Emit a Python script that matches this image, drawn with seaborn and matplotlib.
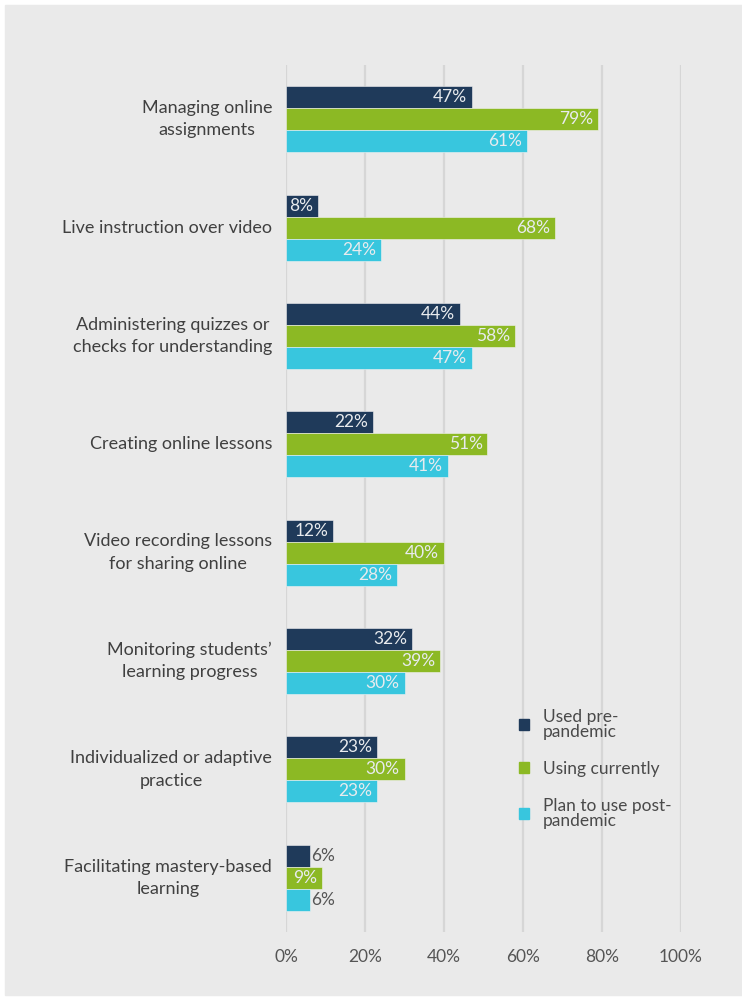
import matplotlib
matplotlib.use("Agg")
import matplotlib.pyplot as plt
from matplotlib.patches import Rectangle
import seaborn as sns
import pandas as pd

categories = [
    "Managing online\nassignments",
    "Live instruction over video",
    "Administering quizzes or\nchecks for understanding",
    "Creating online lessons",
    "Video recording lessons\nfor sharing online",
    "Monitoring students\u2019\nlearning progress",
    "Individualized or adaptive\npractice",
    "Facilitating mastery-based\nlearning",
]
series = ["Used pre-\npandemic", "Using currently", "Plan to use post-\npandemic"]
pre_pandemic = [47, 8, 44, 22, 12, 32, 23, 6]
using_now = [79, 68, 58, 51, 40, 39, 30, 9]
post_pandemic = [61, 24, 47, 41, 28, 30, 23, 6]
ticks = [0, 20, 40, 60, 80, 100]

colors = ["#1f3a5a", "#8cb924", "#38c6de"]
bg = "#eaeaea"

rows = []
for vals, s in zip([pre_pandemic, using_now, post_pandemic], series):
    for c, v in zip(categories, vals):
        rows.append({"category": c, "series": s, "value": v})
df = pd.DataFrame(rows)

sns.set_style("white")
plt.rcParams["font.family"] = ["Lato", "DejaVu Sans"]

fig = plt.figure(figsize=(7.42, 9.99), dpi=100, facecolor="white")
fig.patches.append(Rectangle((5 / 742, 4 / 999), 737 / 742, 990 / 999,
                             transform=fig.transFigure, color=bg, zorder=-10))
ax = fig.add_axes([286 / 742, 1 - 932 / 999, 395 / 742, 867 / 999])
ax.set_facecolor(bg)

sns.barplot(data=df, y="category", x="value", hue="series", orient="h",
            palette=colors, saturation=1, width=0.61, gap=0, ax=ax,
            legend=False, edgecolor="#f2f2f2", linewidth=0.4, zorder=3)

ax.set_xlim(0, 100)
ax.set_ylim(len(categories) - 0.5, -0.5)
ax.set_xticks(ticks)
ax.set_xticklabels([f"{t}%" for t in ticks], fontsize=12.5, color="#555555")
ax.tick_params(axis="x", length=0, pad=12)
ax.tick_params(axis="y", length=0, pad=10)
for lab in ax.get_yticklabels():
    lab.set_fontsize(13)
    lab.set_color("#404040")
    lab.set_multialignment("center")
    lab.set_linespacing(1.5)
    lab.set_verticalalignment("center")
ax.set_xlabel("")
ax.set_ylabel("")
ax.grid(axis="x", color="#d6d6d6", linewidth=1.6, zorder=0)
for sp in ax.spines.values():
    sp.set_visible(False)

for cont in ax.containers:
    for p in cont.patches:
        w = p.get_width()
        yc = p.get_y() + p.get_height() / 2
        if w >= 8:
            ax.text(w - 1.2, yc, f"{w:.0f}%", ha="right", va="center",
                    fontsize=12.5, color="#e8ebee", zorder=4)
        else:
            ax.text(w + 0.4, yc, f"{w:.0f}%", ha="left", va="center",
                    fontsize=12.5, color="#555555", zorder=4)

handles = [Rectangle((0, 0), 1, 1, color=c) for c in colors]
leg = fig.legend(handles, series, loc="upper left",
                 bbox_to_anchor=(503 / 742, 1 - 693 / 999),
                 frameon=False, fontsize=12.5, handlelength=0.6, handleheight=0.6,
                 handletextpad=0.8, labelspacing=1.2)
for t in leg.get_texts():
    t.set_color("#4a4a4a")
    t.set_linespacing(0.95)

fig.savefig("out.png", dpi=100, facecolor="white")
